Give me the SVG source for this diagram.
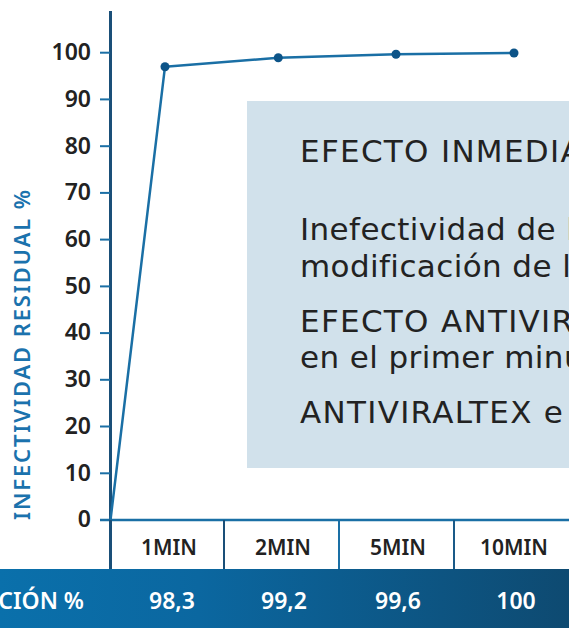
<svg xmlns="http://www.w3.org/2000/svg" width="569" height="628" viewBox="0 0 569 628">
<defs>
<linearGradient id="band" x1="0" y1="0" x2="1" y2="0">
<stop offset="0" stop-color="#0a70ab"/>
<stop offset="0.35" stop-color="#0b67a0"/>
<stop offset="1" stop-color="#0e4a71"/>
</linearGradient>
<style>
.tick{stroke:#1a6fa5;stroke-width:2}
.tl{font-family:"Noto Sans","Liberation Sans",sans-serif;font-weight:600;font-size:23px;fill:#222;text-anchor:end}
.ml{font-family:"Noto Sans","Liberation Sans",sans-serif;font-weight:600;font-size:21px;fill:#222;text-anchor:middle}
.vl{font-family:"Noto Sans","Liberation Sans",sans-serif;font-weight:600;font-size:23px;fill:#fff;text-anchor:middle}
.pt{font-family:"DejaVu Sans",sans-serif;font-size:31px;fill:#222;letter-spacing:0.4px}
.pc{letter-spacing:1.3px}
.dot{fill:#0d5488}
</style>
</defs>
<rect width="569" height="628" fill="#fff"/>
<g id="panel">
<rect x="247" y="101" width="322" height="367" fill="#d1e1eb"/>
<text class="pt pc" x="300" y="162">EFECTO INMEDIA</text>
<text class="pt" x="300" y="240">Inefectividad de l</text>
<text class="pt" x="300" y="277">modificación de l</text>
<text class="pt pc" x="300" y="332">EFECTO ANTIVIR</text>
<text class="pt" x="300" y="368">en el primer minu</text>
<text class="pt pc" x="300" y="423">ANTIVIRALTEX e</text>
</g>
<g id="bottom-band">
<rect x="0" y="569" width="569" height="59" fill="url(#band)"/>
<text class="vl" x="84" y="609" style="text-anchor:end">CIÓN %</text>
<text class="vl" x="172" y="609">98,3</text>
<text class="vl" x="284" y="609">99,2</text>
<text class="vl" x="398" y="609">99,6</text>
<text class="vl" x="516" y="609">100</text>
</g>
<g id="table-row">
<line x1="100" y1="520" x2="569" y2="520" stroke="#1a6fa5" stroke-width="2.5"/>
<line x1="224" y1="520" x2="224" y2="569" stroke="#1a4f78" stroke-width="2"/>
<line x1="339" y1="520" x2="339" y2="569" stroke="#1a6fa5" stroke-width="2"/>
<line x1="454" y1="520" x2="454" y2="569" stroke="#1a5a88" stroke-width="2"/>
<text class="ml" x="169" y="555">1MIN</text>
<text class="ml" x="283" y="555">2MIN</text>
<text class="ml" x="398" y="555">5MIN</text>
<text class="ml" x="514" y="555">10MIN</text>
</g>
<g id="y-axis">
<line x1="110.5" y1="11" x2="110.5" y2="569" stroke="#1a4f78" stroke-width="3"/>
<line class="tick" x1="100" y1="52.7" x2="110" y2="52.7"/>
<line class="tick" x1="100" y1="99.4" x2="110" y2="99.4"/>
<line class="tick" x1="100" y1="146.2" x2="110" y2="146.2"/>
<line class="tick" x1="100" y1="192.9" x2="110" y2="192.9"/>
<line class="tick" x1="100" y1="239.6" x2="110" y2="239.6"/>
<line class="tick" x1="100" y1="286.4" x2="110" y2="286.4"/>
<line class="tick" x1="100" y1="333.1" x2="110" y2="333.1"/>
<line class="tick" x1="100" y1="379.8" x2="110" y2="379.8"/>
<line class="tick" x1="100" y1="426.5" x2="110" y2="426.5"/>
<line class="tick" x1="100" y1="473.3" x2="110" y2="473.3"/>
<text class="tl" x="91" y="60">100</text>
<text class="tl" x="91" y="106.7">90</text>
<text class="tl" x="91" y="153.5">80</text>
<text class="tl" x="91" y="200.2">70</text>
<text class="tl" x="91" y="246.9">60</text>
<text class="tl" x="91" y="293.7">50</text>
<text class="tl" x="91" y="340.4">40</text>
<text class="tl" x="91" y="387.1">30</text>
<text class="tl" x="91" y="433.8">20</text>
<text class="tl" x="91" y="480.6">10</text>
<text class="tl" x="91" y="527.3">0</text>
<text transform="translate(30,520) rotate(-90)" font-family="Noto Sans, Liberation Sans, sans-serif" font-weight="600" font-size="22" fill="#1b72ad" textLength="330" lengthAdjust="spacing">INFECTIVIDAD RESIDUAL %</text>
</g>
<g id="connectors">
<polyline points="110.5,520 165,66.7 278.3,57.7 396,54.3 514,53" fill="none" stroke="#1a6fa5" stroke-width="2.5" stroke-linejoin="round"/>
</g>
<g id="points">
<circle class="dot" cx="165" cy="66.7" r="4.5"/>
<circle class="dot" cx="278.3" cy="57.7" r="4.5"/>
<circle class="dot" cx="396" cy="54.3" r="4.5"/>
<circle class="dot" cx="514" cy="53" r="4.5"/>
</g>
</svg>
